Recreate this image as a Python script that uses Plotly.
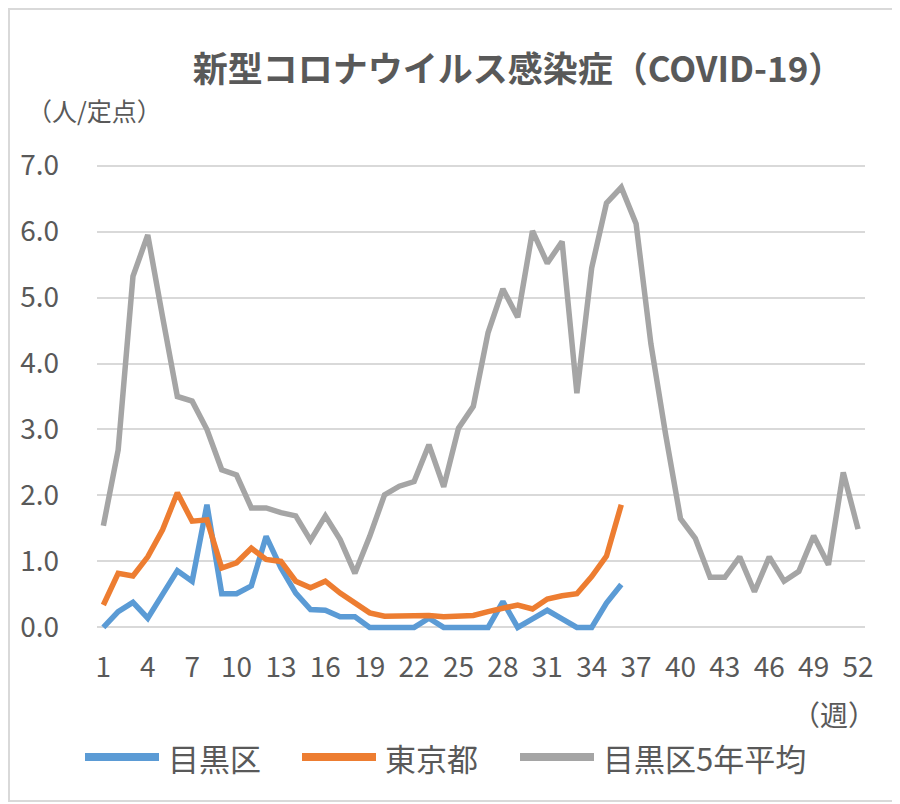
import plotly.graph_objects as go

# 週ごとの定点当たり報告数
weeks = list(range(1, 53))
meguro = [0.0, 0.24, 0.38, 0.14, 0.50, 0.86, 0.70, 1.86, 0.51, 0.51,
          0.63, 1.38, 0.90, 0.52, 0.27, 0.26, 0.16, 0.16, 0.0, 0.0,
          0.0, 0.0, 0.14, 0.0, 0.0, 0.0, 0.0, 0.39, 0.0, 0.13,
          0.26, 0.13, 0.0, 0.0, 0.37, 0.65]
tokyo = [0.34, 0.82, 0.78, 1.07, 1.48, 2.04, 1.61, 1.63, 0.90, 0.98,
         1.20, 1.03, 1.00, 0.70, 0.60, 0.70, 0.52, 0.36, 0.22, 0.17,
         0.17, 0.19, 0.18, 0.16, 0.17, 0.18, 0.24, 0.29, 0.34, 0.28,
         0.43, 0.48, 0.51, 0.77, 1.08, 1.86]
meguro_5yr = [1.54, 2.69, 5.32, 5.95, 4.71, 3.50, 3.43, 3.00, 2.39, 2.31,
              1.81, 1.81, 1.74, 1.69, 1.32, 1.69, 1.33, 0.82, 1.38, 2.01,
              2.14, 2.21, 2.77, 2.13, 3.02, 3.35, 4.47, 5.13, 4.70, 6.01,
              5.52, 5.85, 3.55, 5.45, 6.43, 6.67, 6.12, 4.30, 2.92, 1.65,
              1.35, 0.76, 0.76, 1.07, 0.54, 1.07, 0.70, 0.85, 1.39, 0.95,
              2.35, 1.49]
series_names = ['目黒区', '東京都', '目黒区5年平均']
x_ticks = weeks[::3]
y_ticks = [0, 1, 2, 3, 4, 5, 6, 7]

colors = ['#5B9BD5', '#ED7D31', '#A5A5A5']
FONT = 'Noto Sans CJK JP'
TXT = '#595959'

OFF = 8  # the page body margin shifts the figure by 8px
W, H = 900 - OFF, 804 - OFF
L, R, T, B = 89, 35, 151, 170  # plot area margins (px)


def fx(px):
    # page pixel -> paper x
    return (px - OFF - L) / (W - L - R)


def fy(py):
    # page pixel -> paper y
    return (H - B - (py - OFF)) / (H - T - B)


fig = go.Figure()
for name, vals, col in zip(series_names, [meguro, tokyo, meguro_5yr], colors):
    fig.add_trace(go.Scatter(x=weeks[:len(vals)], y=vals, name=name, mode='lines',
                             line=dict(color=col, width=5.5)))

fig.update_layout(
    width=W, height=H,
    margin=dict(l=L, r=R, t=T, b=B),
    paper_bgcolor='white', plot_bgcolor='white',
    showlegend=False,
    font=dict(family=FONT, color=TXT),
    title=dict(text='新型コロナウイルス感染症（COVID-19）', x=fx(518), xref='paper',
               xanchor='center', y=1 - (70 - OFF) / H, yref='container', yanchor='middle',
               font=dict(size=35, family=FONT, color=TXT, weight='bold')),
)
fig.update_xaxes(range=[0.57, 52.47], tickvals=x_ticks, showgrid=False, zeroline=False,
                 showline=False, tickfont=dict(size=28, color=TXT),
                 ticks='', ticklabelstandoff=14)
fig.update_yaxes(range=[-0.1, 7.1], tickvals=y_ticks, tickformat='.1f',
                 showgrid=True, gridcolor='#D9D9D9', gridwidth=1.5, zeroline=False,
                 showline=False, tickfont=dict(size=28, color=TXT),
                 ticks='', ticklabelstandoff=37)

# 単位ラベル
fig.add_annotation(text='（人/定点）', xref='paper', yref='paper', x=fx(25), y=fy(110),
                   xanchor='left', yanchor='middle', showarrow=False,
                   font=dict(size=25, color=TXT))
fig.add_annotation(text='（週）', xref='paper', yref='paper', x=fx(878), y=fy(714),
                   xanchor='right', yanchor='middle', showarrow=False,
                   font=dict(size=28, color=TXT))

# 凡例
legend_x = [83, 300, 518]
for lx, name, col in zip(legend_x, series_names, colors):
    fig.add_shape(type='line', xref='paper', yref='paper',
                  x0=fx(lx + 2), x1=fx(lx + 76), y0=fy(757), y1=fy(757),
                  line=dict(color=col, width=8))
    fig.add_annotation(text=name, xref='paper', yref='paper', x=fx(lx + 83), y=fy(757),
                       xanchor='left', yanchor='middle', showarrow=False,
                       font=dict(size=31, color=TXT))

# 外枠
fig.add_shape(type='rect', xref='paper', yref='paper',
              x0=fx(OFF + 1), x1=fx(898), y0=fy(OFF + 1), y1=fy(801),
              line=dict(color='#D9D9D9', width=2), layer='below')

fig.write_html('out.html')
